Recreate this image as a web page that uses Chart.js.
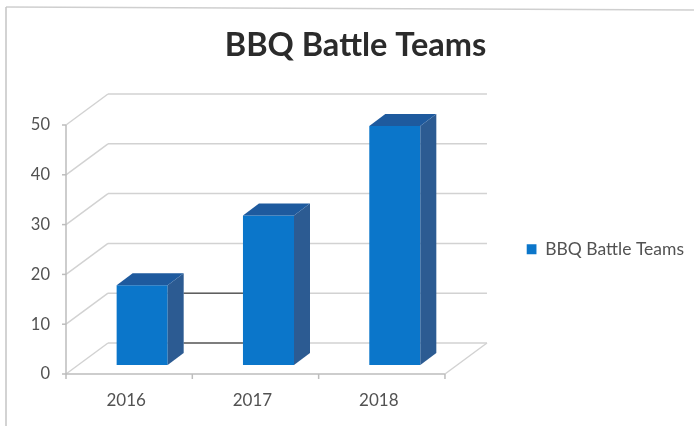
<!DOCTYPE html>
<html>
<head>
<meta charset="utf-8">
<title>BBQ Battle Teams</title>
<script src="https://cdn.jsdelivr.net/npm/chart.js@4"></script>
<style>
  html, body { margin: 0; padding: 0; background: #fff; }
  #wrap { width: 694px; height: 426px; }
</style>
</head>
<body>
<div id="wrap"><canvas id="teams_chart" width="694" height="426"></canvas></div>
<script>
const years = ['2016', '2017', '2018'];
const teams = [16, 30, 48];
const yTicks = [0, 10, 20, 30, 40, 50];
const darkGridValues = [0, 10];

const seriesName = 'BBQ Battle Teams';
const frontColor = '#0b76ca';
const sideColor = '#2c5b92';
const topColor = '#1e5a9e';
const gridColor = '#d2d2d2';
const axisColor = '#bdbdbd';
const textColor = '#525252';

// depth of the fake 3D box, measured from the plane the bars stand on
const front = { dx: -13, dy: 9 };
const back = { dx: 29, dy: -22 };
const barDepth = { dx: 16, dy: -12 };

function line(ctx, x1, y1, x2, y2, color, width) {
  ctx.beginPath();
  ctx.moveTo(x1, y1);
  ctx.lineTo(x2, y2);
  ctx.strokeStyle = color;
  ctx.lineWidth = width;
  ctx.stroke();
}

function poly(ctx, points, color) {
  ctx.beginPath();
  points.forEach((p, i) => i ? ctx.lineTo(p[0], p[1]) : ctx.moveTo(p[0], p[1]));
  ctx.closePath();
  ctx.fillStyle = color;
  ctx.fill();
}

// walls, floor and axes, behind the bars
const boxPlugin = {
  id: 'box3d',
  beforeDatasetsDraw(chart) {
    const ctx = chart.ctx;
    const xs = chart.scales.x;
    const ys = chart.scales.y;
    const bars = chart.getDatasetMeta(0).data;
    ctx.save();

    // page frame
    line(ctx, 6, 7, chart.width, 10, '#cfcfcf', 1.5);
    line(ctx, 6, 7, 6, chart.height, '#c4c4c4', 1.5);

    yTicks.forEach(v => {
      const py = ys.getPixelForValue(v);
      line(ctx, xs.left + front.dx, py + front.dy, xs.left + back.dx, py + back.dy, gridColor, 1.5);
      line(ctx, xs.left + back.dx, py + back.dy, xs.right + back.dx, py + back.dy, gridColor, 1.5);
      line(ctx, xs.left + front.dx - 4, py + front.dy, xs.left + front.dx, py + front.dy, axisColor, 1.5);
    });

    // the two gridlines that print darker between the first bars
    darkGridValues.forEach(v => {
      const py = ys.getPixelForValue(v) + back.dy;
      line(ctx, bars[0].x + bars[0].width / 2 + barDepth.dx, py, bars[1].x - bars[1].width / 2, py, '#5f5f5f', 1.5);
    });

    const base = ys.getPixelForValue(0);
    line(ctx, xs.left + front.dx, ys.getPixelForValue(50) + front.dy, xs.left + front.dx, base + front.dy, axisColor, 1.5);
    line(ctx, xs.left + front.dx, base + front.dy, xs.right + front.dx, base + front.dy, axisColor, 1.5);
    line(ctx, xs.right + front.dx, base + front.dy, xs.right + back.dx, base + back.dy, gridColor, 1.5);

    // ticks between the categories
    const step = (xs.right - xs.left) / years.length;
    for (let i = 0; i <= years.length; i++) {
      const px = xs.left + front.dx + step * i;
      line(ctx, px, base + front.dy, px, base + front.dy + 5, axisColor, 1.5);
    }
    ctx.restore();
  },
  // side and top faces of each bar
  afterDatasetsDraw(chart) {
    const ctx = chart.ctx;
    chart.getDatasetMeta(0).data.forEach(bar => {
      const l = bar.x - bar.width / 2;
      const r = bar.x + bar.width / 2;
      const d = barDepth;
      poly(ctx, [[r, bar.y], [r + d.dx, bar.y + d.dy], [r + d.dx, bar.base + d.dy], [r, bar.base]], sideColor);
      poly(ctx, [[l, bar.y], [l + d.dx, bar.y + d.dy], [r + d.dx, bar.y + d.dy], [r, bar.y]], topColor);
    });
  }
};

const ctx = document.getElementById('teams_chart').getContext('2d');
new Chart(ctx, {
  type: 'bar',
  data: {
    labels: years,
    datasets: [{
      label: seriesName,
      data: teams,
      backgroundColor: frontColor,
      barPercentage: 0.404,
      categoryPercentage: 1
    }]
  },
  options: {
    responsive: false,
    animation: false,
    layout: { padding: { left: 17, right: 0, top: 0, bottom: 0 } },
    plugins: {
      title: {
        display: true,
        text: seriesName,
        color: '#2b2b2b',
        font: { family: 'Lato', size: 32.5, weight: 'bold' },
        padding: { top: 26, bottom: 51 }
      },
      legend: {
        position: 'right',
        fullSize: false,
        maxWidth: 240,
        // blank title only nudges the entry down from the plot's middle
        title: { display: true, text: ' ', font: { size: 8 }, padding: { top: 8, bottom: 0 } },
        labels: {
          boxWidth: 10,
          boxHeight: 10,
          padding: 0,
          color: textColor,
          font: { family: 'Lato', size: 17.5 }
        }
      },
      tooltip: { enabled: false }
    },
    scales: {
      x: {
        grid: { display: false },
        border: { display: false },
        afterFit: s => { s.height = 61; },
        ticks: { color: textColor, font: { family: 'Lato', size: 17 }, labelOffset: -16, padding: 17, maxRotation: 0 }
      },
      y: {
        min: 0,
        max: 50,
        grid: { display: false, drawTicks: false },
        border: { display: false },
        afterFit: s => { s.width = 62; },
        afterBuildTicks: s => { s.ticks = yTicks.map(v => ({ value: v })); },
        ticks: { color: textColor, font: { family: 'Lato', size: 16.5 }, labelOffset: 9, padding: 29 }
      },
      // empty column that keeps the legend away from the plot
      gap: {
        position: 'right',
        grid: { display: false },
        border: { display: false },
        ticks: { display: false },
        afterFit: s => { s.width = 68.5; }
      }
    }
  },
  plugins: [boxPlugin]
});
</script>
</body>
</html>
